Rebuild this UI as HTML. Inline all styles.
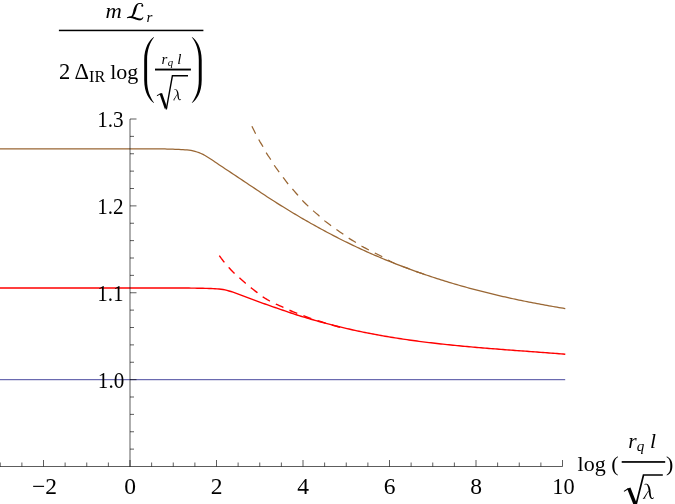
<!DOCTYPE html>
<html><head><meta charset="utf-8"><style>
html,body{margin:0;padding:0;background:#fff;}
svg{display:block;will-change:transform}
text{font-family:"Liberation Serif",serif;font-size:23.5px;fill:#000}
.i{font-style:italic}
.s{font-size:15px}
.ss{font-size:10.8px}
.t{font-size:22px}
.t2{font-size:21.5px}
</style></head><body>
<svg width="675" height="504" viewBox="0 0 675 504">
<rect width="675" height="504" fill="#fff"/>
<!-- curves -->
<g fill="none" stroke-width="1.25">
<path d="M0,379.7H565.2" stroke="#3d3d99" stroke-width="0.95"/>
<path d="M-1.0,288.00 L1.0,288.00 L3.0,288.00 L5.0,288.00 L7.0,288.00 L9.0,288.00 L11.0,288.00 L13.0,288.00 L15.0,288.00 L17.0,288.00 L19.0,288.00 L21.0,288.00 L23.0,288.00 L25.0,288.00 L27.0,288.00 L29.0,288.00 L31.0,288.00 L33.0,288.00 L35.0,288.00 L37.0,288.00 L39.0,288.00 L41.0,288.00 L43.0,288.00 L45.0,288.00 L47.0,288.00 L49.0,288.00 L51.0,288.00 L53.0,288.00 L55.0,288.00 L57.0,288.00 L59.0,288.00 L61.0,288.00 L63.0,288.00 L65.0,288.00 L67.0,288.00 L69.0,288.00 L71.0,288.00 L73.0,288.00 L75.0,288.00 L77.0,288.00 L79.0,288.00 L81.0,288.00 L83.0,288.00 L85.0,288.00 L87.0,288.00 L89.0,288.00 L91.0,288.00 L93.0,288.00 L95.0,288.00 L97.0,288.00 L99.0,288.00 L101.0,288.00 L103.0,288.00 L105.0,288.00 L107.0,288.00 L109.0,288.00 L111.0,288.00 L113.0,288.00 L115.0,288.00 L117.0,288.00 L119.0,288.00 L121.0,288.00 L123.0,288.00 L125.0,288.00 L127.0,288.00 L129.0,288.00 L131.0,288.00 L133.0,288.00 L135.0,288.00 L137.0,288.00 L139.0,288.00 L141.0,288.00 L143.0,288.00 L145.0,288.00 L147.0,288.00 L149.0,288.00 L151.0,288.00 L153.0,288.00 L155.0,288.00 L157.0,288.00 L159.0,288.00 L161.0,288.00 L163.0,288.00 L165.0,288.00 L167.0,288.00 L169.0,288.00 L171.0,288.00 L173.0,288.00 L175.0,288.00 L177.0,288.00 L179.0,288.00 L181.0,288.00 L183.0,288.01 L185.0,288.02 L187.0,288.04 L189.0,288.06 L191.0,288.09 L193.0,288.12 L195.0,288.15 L197.0,288.19 L199.0,288.22 L201.0,288.26 L203.0,288.30 L205.0,288.35 L207.0,288.40 L209.0,288.47 L211.0,288.54 L213.0,288.62 L215.0,288.71 L217.0,288.83 L219.0,289.01 L221.0,289.24 L223.0,289.51 L225.0,289.90 L227.0,290.40 L229.0,290.96 L231.0,291.54 L233.0,292.18 L235.0,292.86 L237.0,293.56 L239.0,294.29 L241.0,295.04 L243.0,295.82 L245.0,296.61 L247.0,297.41 L249.0,298.19 L251.0,298.95 L253.0,299.69 L255.0,300.43 L257.0,301.15 L259.0,301.88 L261.0,302.59 L263.0,303.30 L265.0,304.01 L267.0,304.71 L269.0,305.41 L271.0,306.11 L273.0,306.80 L275.0,307.49 L277.0,308.18 L279.0,308.87 L281.0,309.56 L283.0,310.26 L285.0,310.95 L287.0,311.65 L289.0,312.33 L291.0,313.01 L293.0,313.67 L295.0,314.33 L297.0,314.97 L299.0,315.60 L301.0,316.22 L303.0,316.83 L305.0,317.44 L307.0,318.03 L309.0,318.63 L311.0,319.21 L313.0,319.79 L315.0,320.36 L317.0,320.93 L319.0,321.48 L321.0,322.04 L323.0,322.58 L325.0,323.12 L327.0,323.65 L329.0,324.17 L331.0,324.69 L333.0,325.20 L335.0,325.71 L337.0,326.21 L339.0,326.70 L341.0,327.18 L343.0,327.66 L345.0,328.13 L347.0,328.60 L349.0,329.05 L351.0,329.50 L353.0,329.95 L355.0,330.39 L357.0,330.82 L359.0,331.25 L361.0,331.67 L363.0,332.08 L365.0,332.48 L367.0,332.88 L369.0,333.28 L371.0,333.66 L373.0,334.05 L375.0,334.42 L377.0,334.79 L379.0,335.15 L381.0,335.51 L383.0,335.86 L385.0,336.21 L387.0,336.55 L389.0,336.89 L391.0,337.22 L393.0,337.54 L395.0,337.86 L397.0,338.18 L399.0,338.49 L401.0,338.79 L403.0,339.09 L405.0,339.39 L407.0,339.68 L409.0,339.96 L411.0,340.24 L413.0,340.52 L415.0,340.79 L417.0,341.06 L419.0,341.32 L421.0,341.58 L423.0,341.83 L425.0,342.08 L427.0,342.33 L429.0,342.57 L431.0,342.81 L433.0,343.05 L435.0,343.28 L437.0,343.51 L439.0,343.73 L441.0,343.95 L443.0,344.17 L445.0,344.39 L447.0,344.60 L449.0,344.80 L451.0,345.01 L453.0,345.21 L455.0,345.41 L457.0,345.61 L459.0,345.80 L461.0,345.99 L463.0,346.18 L465.0,346.37 L467.0,346.55 L469.0,346.73 L471.0,346.91 L473.0,347.09 L475.0,347.26 L477.0,347.43 L479.0,347.60 L481.0,347.77 L483.0,347.94 L485.0,348.11 L487.0,348.27 L489.0,348.43 L491.0,348.59 L493.0,348.75 L495.0,348.91 L497.0,349.06 L499.0,349.22 L501.0,349.37 L503.0,349.53 L505.0,349.68 L507.0,349.83 L509.0,349.98 L511.0,350.13 L513.0,350.28 L515.0,350.43 L517.0,350.58 L519.0,350.72 L521.0,350.87 L523.0,351.02 L525.0,351.17 L527.0,351.31 L529.0,351.46 L531.0,351.61 L533.0,351.75 L535.0,351.90 L537.0,352.05 L539.0,352.20 L541.0,352.35 L543.0,352.49 L545.0,352.64 L547.0,352.79 L549.0,352.94 L551.0,353.10 L553.0,353.25 L555.0,353.40 L557.0,353.56 L559.0,353.71 L561.0,353.87 L563.0,354.03 L565.0,354.19 L565.3,354.21" stroke="#ff0000" stroke-width="1.4"/>
<path d="M219.3,255.70 L221.3,258.44 L223.3,261.05 L225.3,263.52 L227.3,265.85 L229.3,268.06 L231.3,270.19 L233.3,272.23 L235.3,274.15 L237.3,275.96 L239.3,277.72 L241.3,279.51 L243.3,281.30 L245.3,283.06 L247.3,284.76 L249.3,286.41 L251.3,288.02 L253.3,289.56 L255.3,291.07 L257.3,292.59 L259.3,294.18 L261.3,295.78 L263.3,297.20 L265.3,298.47 L267.3,299.65 L269.3,300.76 L271.3,301.83 L273.3,302.84 L275.3,303.81 L277.3,304.73 L279.3,305.61 L281.3,306.47 L283.3,307.36 L285.3,308.31 L287.3,309.27 L289.3,310.17 L291.3,311.00 L293.3,311.78 L295.3,312.55 L297.3,313.32 L299.3,314.10 L301.3,314.89 L303.3,315.67 L305.3,316.44 L307.3,317.20 L309.3,317.93 L311.3,318.64 L313.3,319.30 L315.3,319.94 L317.3,320.57 L319.3,321.18 L321.3,321.77 L323.3,322.36 L325.3,322.96 L327.3,323.57 L329.3,324.19 L331.3,324.80 L333.3,325.37 L335.3,325.94 L337.3,326.48 L339.3,327.02 L340.0,327.20" stroke="#ff0000" stroke-width="1.4" stroke-dasharray="8.4 6.6"/>
<path d="M-1.0,148.75 L1.0,148.75 L3.0,148.75 L5.0,148.75 L7.0,148.75 L9.0,148.75 L11.0,148.75 L13.0,148.75 L15.0,148.75 L17.0,148.75 L19.0,148.75 L21.0,148.75 L23.0,148.75 L25.0,148.75 L27.0,148.75 L29.0,148.75 L31.0,148.75 L33.0,148.75 L35.0,148.75 L37.0,148.75 L39.0,148.75 L41.0,148.75 L43.0,148.75 L45.0,148.75 L47.0,148.75 L49.0,148.75 L51.0,148.75 L53.0,148.75 L55.0,148.75 L57.0,148.75 L59.0,148.75 L61.0,148.75 L63.0,148.75 L65.0,148.75 L67.0,148.75 L69.0,148.75 L71.0,148.75 L73.0,148.75 L75.0,148.75 L77.0,148.75 L79.0,148.75 L81.0,148.75 L83.0,148.75 L85.0,148.75 L87.0,148.75 L89.0,148.75 L91.0,148.75 L93.0,148.75 L95.0,148.75 L97.0,148.75 L99.0,148.75 L101.0,148.75 L103.0,148.75 L105.0,148.75 L107.0,148.75 L109.0,148.75 L111.0,148.75 L113.0,148.76 L115.0,148.76 L117.0,148.76 L119.0,148.76 L121.0,148.77 L123.0,148.77 L125.0,148.77 L127.0,148.78 L129.0,148.78 L131.0,148.79 L133.0,148.79 L135.0,148.80 L137.0,148.80 L139.0,148.81 L141.0,148.82 L143.0,148.82 L145.0,148.83 L147.0,148.84 L149.0,148.85 L151.0,148.86 L153.0,148.86 L155.0,148.87 L157.0,148.88 L159.0,148.89 L161.0,148.91 L163.0,148.93 L165.0,148.98 L167.0,149.03 L169.0,149.09 L171.0,149.16 L173.0,149.23 L175.0,149.30 L177.0,149.38 L179.0,149.46 L181.0,149.55 L183.0,149.66 L185.0,149.79 L187.0,149.94 L189.0,150.12 L191.0,150.37 L193.0,150.83 L195.0,151.40 L197.0,152.00 L199.0,152.69 L201.0,153.50 L203.0,154.43 L205.0,155.54 L207.0,156.74 L209.0,157.96 L211.0,159.25 L213.0,160.58 L215.0,161.95 L217.0,163.31 L219.0,164.67 L221.0,166.00 L223.0,167.32 L225.0,168.65 L227.0,169.98 L229.0,171.31 L231.0,172.64 L233.0,173.97 L235.0,175.30 L237.0,176.63 L239.0,177.96 L241.0,179.29 L243.0,180.63 L245.0,181.97 L247.0,183.31 L249.0,184.65 L251.0,185.98 L253.0,187.31 L255.0,188.64 L257.0,189.98 L259.0,191.32 L261.0,192.67 L263.0,194.01 L265.0,195.35 L267.0,196.68 L269.0,197.99 L271.0,199.29 L273.0,200.57 L275.0,201.84 L277.0,203.10 L279.0,204.35 L281.0,205.60 L283.0,206.84 L285.0,208.07 L287.0,209.30 L289.0,210.52 L291.0,211.73 L293.0,212.93 L295.0,214.13 L297.0,215.32 L299.0,216.50 L301.0,217.67 L303.0,218.84 L305.0,220.00 L307.0,221.15 L309.0,222.29 L311.0,223.42 L313.0,224.55 L315.0,225.67 L317.0,226.78 L319.0,227.88 L321.0,228.98 L323.0,230.06 L325.0,231.14 L327.0,232.21 L329.0,233.27 L331.0,234.32 L333.0,235.37 L335.0,236.40 L337.0,237.43 L339.0,238.45 L341.0,239.46 L343.0,240.46 L345.0,241.45 L347.0,242.43 L349.0,243.41 L351.0,244.37 L353.0,245.33 L355.0,246.28 L357.0,247.22 L359.0,248.16 L361.0,249.08 L363.0,250.00 L365.0,250.91 L367.0,251.81 L369.0,252.70 L371.0,253.58 L373.0,254.46 L375.0,255.33 L377.0,256.19 L379.0,257.04 L381.0,257.88 L383.0,258.72 L385.0,259.55 L387.0,260.37 L389.0,261.19 L391.0,261.99 L393.0,262.79 L395.0,263.58 L397.0,264.37 L399.0,265.14 L401.0,265.91 L403.0,266.67 L405.0,267.43 L407.0,268.18 L409.0,268.92 L411.0,269.65 L413.0,270.38 L415.0,271.10 L417.0,271.81 L419.0,272.51 L421.0,273.21 L423.0,273.90 L425.0,274.59 L427.0,275.27 L429.0,275.94 L431.0,276.60 L433.0,277.26 L435.0,277.91 L437.0,278.56 L439.0,279.20 L441.0,279.83 L443.0,280.46 L445.0,281.08 L447.0,281.69 L449.0,282.30 L451.0,282.90 L453.0,283.49 L455.0,284.08 L457.0,284.67 L459.0,285.24 L461.0,285.81 L463.0,286.38 L465.0,286.94 L467.0,287.49 L469.0,288.04 L471.0,288.58 L473.0,289.12 L475.0,289.65 L477.0,290.18 L479.0,290.70 L481.0,291.21 L483.0,291.72 L485.0,292.22 L487.0,292.72 L489.0,293.22 L491.0,293.70 L493.0,294.19 L495.0,294.67 L497.0,295.14 L499.0,295.61 L501.0,296.07 L503.0,296.53 L505.0,296.98 L507.0,297.43 L509.0,297.87 L511.0,298.31 L513.0,298.74 L515.0,299.17 L517.0,299.60 L519.0,300.02 L521.0,300.43 L523.0,300.84 L525.0,301.25 L527.0,301.65 L529.0,302.05 L531.0,302.44 L533.0,302.83 L535.0,303.22 L537.0,303.60 L539.0,303.97 L541.0,304.35 L543.0,304.72 L545.0,305.08 L547.0,305.44 L549.0,305.80 L551.0,306.15 L553.0,306.50 L555.0,306.85 L557.0,307.19 L559.0,307.53 L561.0,307.86 L563.0,308.20 L565.0,308.52 L565.3,308.57" stroke="#996633"/>
<path d="M251.9,126.20 L253.9,130.34 L255.9,134.30 L257.9,138.09 L259.9,141.61 L261.9,144.86 L263.9,148.32 L265.9,152.20 L267.9,155.38 L269.9,158.24 L271.9,161.40 L273.9,164.83 L275.9,167.71 L277.9,170.32 L279.9,172.98 L281.9,175.73 L283.9,178.45 L285.9,181.15 L287.9,183.75 L289.9,186.16 L291.9,188.43 L293.9,190.71 L295.9,192.97 L297.9,195.25 L299.9,197.62 L301.9,199.96 L303.9,202.04 L305.9,203.97 L307.9,205.84 L309.9,207.73 L311.9,209.60 L313.9,211.40 L315.9,213.12 L317.9,214.83 L319.9,216.58 L321.9,218.44 L323.9,220.26 L325.9,221.87 L327.9,223.35 L329.9,224.78 L331.9,226.25 L333.9,227.74 L335.9,229.21 L337.9,230.61 L339.9,231.96 L341.9,233.30 L343.9,234.68 L345.9,236.15 L347.9,237.59 L349.9,238.90 L351.9,240.11 L353.9,241.29 L355.9,242.50 L357.9,243.79 L359.9,245.09 L361.9,246.29 L363.9,247.38 L365.9,248.41 L367.9,249.44 L369.9,250.48 L371.9,251.51 L373.9,252.54 L375.9,253.55 L377.9,254.54 L379.9,255.53 L381.9,256.55 L383.9,257.62 L385.9,258.75 L387.9,259.90 L389.9,261.02 L391.9,262.08 L393.9,263.04 L395.9,263.91 L397.9,264.73 L399.9,265.51 L401.9,266.27 L403.9,267.00 L405.9,267.71 L407.9,268.43 L409.9,269.15 L411.9,269.88 L413.9,270.62 L415.9,271.35 L417.9,272.08 L419.9,272.79 L421.9,273.51 L423.9,274.21 L425.0,274.60" stroke="#996633" stroke-dasharray="8.4 6.6"/>
</g>
<!-- axes -->
<g fill="none" stroke="#000" stroke-width="0.64">
<path d="M0,466.5H562.50"/>
<path d="M130.0,466.5V119.0"/>
<path d="M0.25,466.50v-4.0M21.88,466.50v-4.0M43.50,466.50v-6.5M65.12,466.50v-4.0M86.75,466.50v-4.0M108.38,466.50v-4.0M130.00,466.50v-6.5M151.62,466.50v-4.0M173.25,466.50v-4.0M194.88,466.50v-4.0M216.50,466.50v-6.5M238.12,466.50v-4.0M259.75,466.50v-4.0M281.38,466.50v-4.0M303.00,466.50v-6.5M324.62,466.50v-4.0M346.25,466.50v-4.0M367.88,466.50v-4.0M389.50,466.50v-6.5M411.12,466.50v-4.0M432.75,466.50v-4.0M454.38,466.50v-4.0M476.00,466.50v-6.5M497.62,466.50v-4.0M519.25,466.50v-4.0M540.88,466.50v-4.0M562.50,466.50v-6.5M130.00,449.12h4.0M130.00,431.75h4.0M130.00,414.38h4.0M130.00,397.00h4.0M130.00,379.63h6.5M130.00,362.25h4.0M130.00,344.88h4.0M130.00,327.50h4.0M130.00,310.12h4.0M130.00,292.75h6.5M130.00,275.37h4.0M130.00,258.00h4.0M130.00,240.62h4.0M130.00,223.25h4.0M130.00,205.88h6.5M130.00,188.50h4.0M130.00,171.13h4.0M130.00,153.75h4.0M130.00,136.38h4.0M130.00,119.00h6.5"/>
</g>
<g><text x="44.5" y="494" text-anchor="middle">−2</text><text x="130.0" y="494" text-anchor="middle">0</text><text x="216.5" y="494" text-anchor="middle">2</text><text x="303.0" y="494" text-anchor="middle">4</text><text x="389.5" y="494" text-anchor="middle">6</text><text x="476.0" y="494" text-anchor="middle">8</text><text transform="translate(563.4,494) scale(0.95,1)" text-anchor="middle">10</text><text transform="translate(124.3,387.5) scale(0.9,1)" x="0" y="0" text-anchor="end">1.0</text><text transform="translate(123.6,300.6) scale(0.9,1)" x="0" y="0" text-anchor="end">1.1</text><text transform="translate(123.6,213.8) scale(0.9,1)" x="0" y="0" text-anchor="end">1.2</text><text transform="translate(123.6,126.9) scale(0.9,1)" x="0" y="0" text-anchor="end">1.3</text></g>
<!-- TITLE -->
<g id="title">
<text transform="translate(105.4,17.9) scale(1.12,1)" class="i" style="font-size:20.2px">m</text>
<path d="M142.94,6.12 L143.00,5.70 L143.01,5.26 L142.95,4.85 L142.82,4.48 L142.64,4.14 L142.42,3.83 L142.14,3.57 L141.83,3.36 L141.48,3.19 L141.11,3.07 L140.72,2.99 L140.30,2.95 L139.87,2.95 L139.38,3.00 L138.91,3.09 L138.47,3.23 L138.02,3.36 L137.59,3.54 L137.17,3.76 L136.77,4.03 L136.39,4.34 L136.03,4.68 L135.69,5.06 L135.39,5.49 L135.11,5.94 L134.85,6.43 L134.58,7.00 L134.33,7.56 L134.10,8.11 L133.88,8.66 L133.68,9.21 L133.55,9.76 L133.43,10.31 L133.31,10.85 L133.18,11.38 L133.05,11.90 L132.91,12.40 L132.76,12.90 L132.63,13.41 L132.53,13.78 L132.43,14.13 L132.31,14.47 L132.19,14.79 L132.05,15.09 L131.91,15.36 L131.75,15.63 L131.58,15.87 L131.38,16.08 L131.17,16.27 L130.94,16.43 L130.69,16.58 L130.42,16.70 L130.18,16.79 L129.93,16.87 L129.67,16.95 L129.41,17.01 L129.14,17.07 L128.87,17.13 L128.60,17.18 L128.32,17.23 L128.05,17.29 L127.77,17.35 L127.48,17.41 L127.20,17.48 L126.92,17.56 L127.08,18.24 L127.35,18.19 L127.62,18.15 L127.90,18.12 L128.17,18.09 L128.44,18.06 L128.72,18.04 L129.01,18.01 L129.29,17.98 L129.58,17.94 L129.87,17.90 L130.17,17.84 L130.46,17.78 L130.78,17.70 L131.14,17.57 L131.49,17.41 L131.82,17.22 L132.13,17.01 L132.44,16.78 L132.75,16.53 L133.04,16.26 L133.32,15.97 L133.59,15.66 L133.85,15.32 L134.09,14.96 L134.33,14.59 L134.57,14.19 L134.84,13.68 L135.06,13.14 L135.26,12.60 L135.46,12.06 L135.64,11.52 L135.82,10.98 L136.00,10.44 L136.18,9.91 L136.28,9.36 L136.39,8.81 L136.50,8.26 L136.62,7.71 L136.75,7.17 L136.88,6.76 L137.02,6.37 L137.18,6.00 L137.34,5.65 L137.52,5.33 L137.72,5.03 L137.95,4.75 L138.20,4.50 L138.47,4.28 L138.78,4.08 L139.14,3.97 L139.52,3.89 L139.93,3.85 L140.27,3.85 L140.59,3.88 L140.88,3.94 L141.14,4.03 L141.38,4.14 L141.58,4.28 L141.74,4.43 L141.87,4.61 L141.96,4.81 L142.00,5.03 L142.01,5.27 L141.96,5.54 L141.86,5.88ZM127.16,18.21 L127.55,18.08 L127.94,17.99 L128.33,17.92 L128.72,17.89 L129.11,17.87 L129.51,17.89 L129.91,17.92 L130.31,17.98 L130.71,18.02 L131.12,18.07 L131.53,18.14 L131.95,18.23 L132.37,18.35 L132.88,18.50 L133.40,18.68 L133.91,18.86 L134.43,19.05 L134.95,19.22 L135.48,19.39 L136.01,19.57 L136.54,19.73 L137.08,19.89 L137.62,20.03 L138.16,20.16 L138.71,20.27 L139.27,20.35 L139.80,20.39 L140.32,20.33 L140.81,20.22 L141.26,20.04 L141.67,19.83 L142.03,19.57 L142.35,19.27 L142.62,18.94 L142.84,18.58 L143.02,18.20 L143.16,17.81 L143.27,17.39 L143.34,16.98 L142.86,16.82 L142.68,17.17 L142.47,17.47 L142.26,17.74 L142.03,17.97 L141.79,18.16 L141.55,18.32 L141.31,18.43 L141.05,18.51 L140.78,18.56 L140.51,18.57 L140.21,18.55 L139.89,18.49 L139.53,18.45 L139.07,18.36 L138.61,18.26 L138.13,18.13 L137.65,17.98 L137.16,17.81 L136.66,17.64 L136.15,17.45 L135.63,17.26 L135.10,17.06 L134.55,16.90 L133.99,16.74 L133.42,16.59 L132.83,16.45 L132.33,16.36 L131.82,16.28 L131.32,16.23 L130.82,16.20 L130.32,16.22 L129.83,16.30 L129.35,16.40 L128.89,16.54 L128.44,16.69 L128.01,16.88 L127.59,17.09 L127.20,17.33 L126.84,17.59Z" fill="#000"/><circle cx="142.30" cy="5.70" r="1.05" fill="#000"/>
<text x="146.4" y="21.9" class="i" style="font-size:15.2px">r</text>
<rect x="58.9" y="29.7" width="144.5" height="1.5"/>
<text x="59.1" y="78.5" style="font-size:22.5px">2</text>
<text x="74.4" y="78.5" style="font-size:22.5px">Δ</text>
<text x="89.0" y="82.0" style="font-size:16.2px">IR</text>
<text x="110.2" y="78.5" class="t">log</text>
<path d="M153.9,36.9 C149.5,40 144.2,47 144.2,60 V80 C144.2,93 149.5,100 153.9,103.1 L154.1,102.7 C150,97.5 147.1,90 147.1,80 V60 C147.1,50 150,42.5 154.1,37.3 Z" fill="#000"/>
<path d="M192.0 36.9 C196.4 40.0 201.7 47.0 201.7 60.0 V80.0 C201.7 93.0 196.4 100.0 192.0 103.1 L191.8 102.7 C195.9 97.5 198.8 90.0 198.8 80.0 V60.0 C198.8 50.0 195.9 42.5 191.8 37.3 Z" fill="#000"/>
<text x="161.6" y="63.7" class="i s">r</text>
<text x="167.8" y="66.2" class="i ss">q</text>
<text x="177.3" y="63.7" class="i s">l</text>
<rect x="155.0" y="68.6" width="35.9" height="1.9"/>
<g fill="none" stroke="#000">
<path d="M156.9,95.7 L160.6,93.8" stroke-width="1.0"/>
<path d="M160.8,93.4 L166.0,108.4" stroke-width="2.7"/>
<path d="M166.3,109.5 L172.4,75.8 H188.0" stroke-width="1.4"/>
</g>
<path d="M174.28,90.04 L174.38,90.01 L174.51,89.95 L174.66,89.89 L174.83,89.83 L174.99,89.78 L175.15,89.74 L175.29,89.73 L175.41,89.74 L175.53,89.77 L175.66,89.81 L175.79,89.87 L175.91,89.95 L176.02,90.05 L176.12,90.16 L176.22,90.30 L176.31,90.47 L176.40,90.69 L176.50,90.94 L176.59,91.24 L176.69,91.54 L176.79,91.87 L176.88,92.21 L176.96,92.56 L177.03,92.91 L177.08,93.26 L177.12,93.65 L177.15,94.06 L177.21,94.48 L177.27,94.92 L177.32,95.35 L177.38,95.77 L177.45,96.16 L177.51,96.53 L177.58,96.88 L177.64,97.23 L177.71,97.57 L177.79,97.89 L177.89,98.20 L177.99,98.50 L178.11,98.78 L178.24,99.03 L178.38,99.26 L178.53,99.46 L178.68,99.65 L178.84,99.81 L179.01,99.95 L179.18,100.06 L179.36,100.15 L179.56,100.22 L179.78,100.24 L179.97,100.22 L180.15,100.17 L180.31,100.11 L180.45,100.04 L180.57,99.97 L180.69,99.89 L180.80,99.79 L180.89,99.66 L180.95,99.54 L180.99,99.42 L181.02,99.31 L181.04,99.21 L181.05,99.14 L181.07,99.09 L180.74,98.95 L180.71,99.01 L180.67,99.08 L180.63,99.17 L180.59,99.25 L180.54,99.33 L180.49,99.39 L180.44,99.43 L180.40,99.45 L180.32,99.47 L180.22,99.50 L180.11,99.53 L180.01,99.54 L179.90,99.54 L179.82,99.53 L179.76,99.51 L179.71,99.47 L179.65,99.41 L179.57,99.32 L179.48,99.21 L179.39,99.08 L179.31,98.94 L179.23,98.78 L179.15,98.60 L179.09,98.40 L179.04,98.18 L179.00,97.93 L178.96,97.65 L178.92,97.35 L178.88,97.03 L178.83,96.69 L178.79,96.33 L178.75,95.97 L178.70,95.60 L178.67,95.21 L178.64,94.78 L178.61,94.34 L178.58,93.89 L178.50,93.45 L178.41,93.01 L178.30,92.61 L178.17,92.22 L178.03,91.84 L177.88,91.48 L177.73,91.13 L177.57,90.80 L177.38,90.50 L177.19,90.23 L177.00,90.00 L176.81,89.80 L176.61,89.63 L176.41,89.50 L176.21,89.40 L176.01,89.33 L175.82,89.28 L175.64,89.24 L175.46,89.22 L175.25,89.23 L175.04,89.28 L174.84,89.35 L174.66,89.43 L174.49,89.52 L174.34,89.60 L174.23,89.67 L174.14,89.71ZM176.83,94.52 L176.70,94.72 L176.52,95.00 L176.30,95.34 L176.06,95.71 L175.81,96.09 L175.56,96.48 L175.32,96.86 L175.09,97.20 L174.88,97.54 L174.64,97.89 L174.40,98.25 L174.16,98.59 L173.94,98.92 L173.74,99.21 L173.57,99.46 L173.45,99.64 L174.25,100.12 L174.35,99.92 L174.49,99.66 L174.66,99.35 L174.84,99.00 L175.03,98.63 L175.23,98.25 L175.43,97.87 L175.63,97.52 L175.83,97.17 L176.05,96.78 L176.28,96.37 L176.50,95.97 L176.72,95.59 L176.91,95.25 L177.08,94.96 L177.20,94.74ZM173.13,99.52h1.66v0.72h-1.66Z" fill="#000"/>
</g>
<!-- XLABEL -->
<g id="xlabel">
<text x="577.6" y="470.8" class="t">log (</text>
<text x="666" y="470.8" class="t">)</text>
<rect x="621.7" y="461.1" width="43.5" height="1.7"/>
<text x="628.2" y="447.5" class="i t2">r</text>
<text x="636.7" y="451.4" class="i" style="font-size:15.2px">q</text>
<text x="650.1" y="447.5" class="i t2">l</text>
<g fill="none" stroke="#000">
<path d="M624.0,491.4 L628.5,488.5" stroke-width="1.1"/>
<path d="M628.8,488.1 L635.5,505" stroke-width="3.5"/>
<path d="M635.7,506 L643.5,475.0 H662.8" stroke-width="1.7"/>
</g>
<path d="M644.49,484.83 L644.64,484.78 L644.82,484.71 L645.03,484.62 L645.26,484.54 L645.49,484.46 L645.71,484.41 L645.90,484.39 L646.07,484.41 L646.24,484.45 L646.42,484.51 L646.60,484.59 L646.76,484.70 L646.91,484.84 L647.06,485.00 L647.19,485.19 L647.32,485.43 L647.45,485.73 L647.58,486.08 L647.70,486.49 L647.85,486.92 L647.99,487.37 L648.11,487.85 L648.23,488.33 L648.32,488.81 L648.39,489.30 L648.44,489.84 L648.49,490.41 L648.57,491.00 L648.65,491.60 L648.72,492.20 L648.81,492.79 L648.90,493.33 L648.99,493.84 L649.08,494.33 L649.17,494.81 L649.27,495.28 L649.38,495.73 L649.51,496.17 L649.66,496.58 L649.82,496.96 L650.00,497.31 L650.19,497.63 L650.40,497.92 L650.61,498.17 L650.84,498.40 L651.07,498.59 L651.30,498.74 L651.55,498.88 L651.84,498.97 L652.13,498.99 L652.40,498.96 L652.65,498.90 L652.87,498.82 L653.07,498.72 L653.24,498.62 L653.40,498.51 L653.56,498.37 L653.68,498.19 L653.76,498.02 L653.82,497.85 L653.86,497.70 L653.89,497.57 L653.91,497.47 L653.93,497.40 L653.47,497.20 L653.43,497.28 L653.37,497.39 L653.32,497.50 L653.26,497.62 L653.19,497.73 L653.12,497.81 L653.06,497.86 L653.00,497.89 L652.90,497.93 L652.75,497.97 L652.60,498.00 L652.45,498.02 L652.31,498.03 L652.20,498.01 L652.11,497.97 L652.05,497.92 L651.96,497.84 L651.84,497.71 L651.72,497.56 L651.60,497.39 L651.48,497.19 L651.37,496.96 L651.27,496.71 L651.18,496.44 L651.11,496.14 L651.05,495.79 L651.00,495.40 L650.95,494.98 L650.89,494.53 L650.83,494.06 L650.76,493.57 L650.70,493.07 L650.65,492.55 L650.60,492.00 L650.56,491.41 L650.52,490.80 L650.47,490.18 L650.36,489.56 L650.23,488.96 L650.08,488.39 L649.90,487.86 L649.71,487.33 L649.51,486.83 L649.29,486.34 L649.06,485.88 L648.80,485.47 L648.54,485.10 L648.28,484.77 L648.01,484.49 L647.74,484.26 L647.46,484.08 L647.18,483.94 L646.90,483.85 L646.64,483.77 L646.39,483.72 L646.13,483.69 L645.85,483.70 L645.56,483.77 L645.28,483.87 L645.03,483.98 L644.79,484.11 L644.59,484.22 L644.43,484.31 L644.31,484.37ZM648.04,491.04 L647.86,491.33 L647.61,491.72 L647.31,492.18 L646.98,492.70 L646.63,493.24 L646.28,493.78 L645.94,494.30 L645.63,494.78 L645.33,495.25 L645.00,495.73 L644.67,496.22 L644.34,496.71 L644.03,497.16 L643.75,497.57 L643.52,497.91 L643.34,498.17 L644.46,498.83 L644.60,498.56 L644.79,498.19 L645.02,497.75 L645.28,497.27 L645.54,496.75 L645.82,496.22 L646.10,495.71 L646.37,495.22 L646.65,494.73 L646.95,494.19 L647.27,493.62 L647.59,493.07 L647.89,492.54 L648.16,492.06 L648.39,491.66 L648.56,491.36ZM642.90,498.00h2.30v1.00h-2.30Z" fill="#000"/>
</g>
</svg>
</body></html>
